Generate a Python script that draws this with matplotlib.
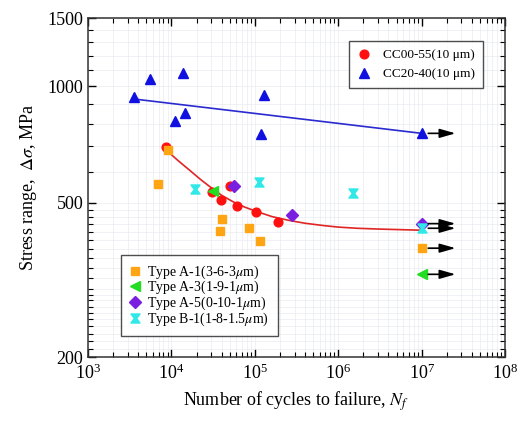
import matplotlib
matplotlib.use('Agg')
import matplotlib.pyplot as plt
import numpy as np
from matplotlib.path import Path
from matplotlib.ticker import FixedLocator, LogLocator, NullFormatter, LogFormatterSciNotation

plt.rcParams['font.family'] = ['Liberation Serif', 'DejaVu Serif']
plt.rcParams['mathtext.fontset'] = 'stix'

# CC00-55 (10 um)
cc00_N = [8610, 50400, 30400, 39300, 61700, 104000, 191000]
cc00_S = [698, 554, 534, 508, 491, 473, 445]
# CC20-40 (10 um)
cc20_N = [3590, 5580, 13900, 11050, 14700, 128900, 118000, 1.0e7]
cc20_S = [939, 1044, 1080, 813, 851, 949, 752, 756]
# Type A-1
a1_N = [6850, 9180, 40100, 38300, 84500, 116000, 1.0e7]
a1_S = [558, 686, 454, 423, 430, 398, 382]
# Type A-3
a3_N = [31800, 1.0e7]
a3_S = [536, 327]
# Type A-5
a5_N = [56300, 279000, 1.0e7]
a5_S = [553, 466, 442]
# Type B-1
b1_N = [19000, 113000, 1.5e6, 1.0e7]
b1_S = [543, 565, 529, 430]

# fitted curves
red_fit_N = [8610, 9620, 12000, 16700, 22500, 30400, 40000, 55200, 75000, 105000,
             160000, 264000, 400000, 662000, 1.0e6, 1.67e6, 3.0e6, 1.0e7]
red_fit_S = [697, 671, 643, 606, 574, 546, 523, 503, 488, 475,
             461, 450, 443, 437, 433, 430, 428, 425]
blue_fit_N = [3600, 1.0e7]
blue_fit_S = [927, 756]

# run-outs (arrows)
runout_S = [756, 442, 430, 382, 327]

fig = plt.figure(figsize=(5.19, 4.21), dpi=100)
ax = fig.add_axes([0.1696, 0.152, 0.8035, 0.805])
ax.set_xscale('log')
ax.set_yscale('log')
ax.set_xlim(1e3, 1e8)
ax.set_ylim(200, 1500)

ax.plot(red_fit_N, red_fit_S, color='#e02525', lw=1.2, zorder=2)
ax.plot(blue_fit_N, blue_fit_S, color='#2a2ad0', lw=1.2, zorder=2)

hourglass = Path([(-1, 1), (1, 1), (0.25, 0), (1, -1), (-1, -1), (-0.25, 0), (-1, 1)],
                 [Path.MOVETO] + [Path.LINETO] * 5 + [Path.CLOSEPOLY])

h1, = ax.plot(cc00_N, cc00_S, 'o', color='#ff1010', ms=6.3, ls='none', zorder=3,
              label='CC00-55(10 \u03bcm)')
h2, = ax.plot(cc20_N, cc20_S, '^', color='#1010e0', ms=7, ls='none', zorder=3,
              label='CC20-40(10 \u03bcm)')
h3, = ax.plot(a1_N, a1_S, 's', color='#ffa514', ms=6, ls='none', zorder=3,
              label=r'Type A-1(3-6-3$\mu$m)')
h4, = ax.plot(a3_N, a3_S, '<', color='#22dd22', ms=7, ls='none', zorder=3,
              label=r'Type A-3(1-9-1$\mu$m)')
h5, = ax.plot(a5_N, a5_S, 'D', color='#7a1ee0', ms=6, ls='none', zorder=3,
              label=r'Type A-5(0-10-1$\mu$m)')
h6, = ax.plot(b1_N, b1_S, marker=hourglass, color='#30e8e8', ms=6.5, ls='none', zorder=3,
              label=r'Type B-1(1-8-1.5$\mu$m)')

for s in runout_S:
    ax.annotate('', xy=(2.55e7, s), xytext=(1.2e7, s),
                arrowprops=dict(arrowstyle='-|>,head_length=0.95,head_width=0.27',
                                color='black', lw=1.2, mutation_scale=10,
                                shrinkA=0, shrinkB=0), zorder=4)

ax.xaxis.set_major_locator(LogLocator(base=10, numticks=10))
ax.xaxis.set_minor_locator(LogLocator(base=10, subs=np.arange(2, 10), numticks=10))
ax.xaxis.set_major_formatter(LogFormatterSciNotation())
ax.xaxis.set_minor_formatter(NullFormatter())

ax.yaxis.set_major_locator(FixedLocator([200, 500, 1000, 1500]))
y_minor = list(range(210, 300, 10)) + list(range(300, 500, 20)) + \
    [600, 700, 800, 900, 1100, 1200, 1300, 1400]
ax.yaxis.set_minor_locator(FixedLocator(y_minor))
ax.yaxis.set_major_formatter(plt.FuncFormatter(lambda v, p: '%d' % v))
ax.yaxis.set_minor_formatter(NullFormatter())

ax.tick_params(which='both', direction='in', top=True, right=True, labelsize=13)
ax.tick_params(which='major', length=6, width=1)
ax.tick_params(which='minor', length=3.5, width=0.8)
ax.tick_params(axis='x', pad=5)

ax.grid(True, which='both', color='#e9ebf1', lw=0.5, zorder=0)
ax.set_axisbelow(True)
for sp in ax.spines.values():
    sp.set_linewidth(1.1)
    sp.set_color('#333333')

ax.set_xlabel(r'Number of cycles to failure, $N_f$', fontsize=13, labelpad=4)
ax.set_ylabel(r'Stress range,  $\mathit{\Delta\sigma}$, MPa', fontsize=13, labelpad=6)

leg1 = ax.legend(handles=[h1, h2], loc='upper left', bbox_to_anchor=(0.626, 0.932),
                 fontsize=9.5, frameon=True, fancybox=False, edgecolor='#222222',
                 handlelength=1.0, handletextpad=1.0, borderpad=0.6, labelspacing=0.5,
                 borderaxespad=0)
leg1.get_frame().set_linewidth(1.0)
ax.add_artist(leg1)
leg2 = ax.legend(handles=[h3, h4, h5, h6], loc='lower left', bbox_to_anchor=(0.079, 0.062),
                 fontsize=10, frameon=True, fancybox=False, edgecolor='#222222',
                 handlelength=0.8, handletextpad=0.5, borderpad=0.6, labelspacing=-0.12,
                 borderaxespad=0)
leg2.get_frame().set_linewidth(1.0)

fig.savefig('out.png', dpi=100)
